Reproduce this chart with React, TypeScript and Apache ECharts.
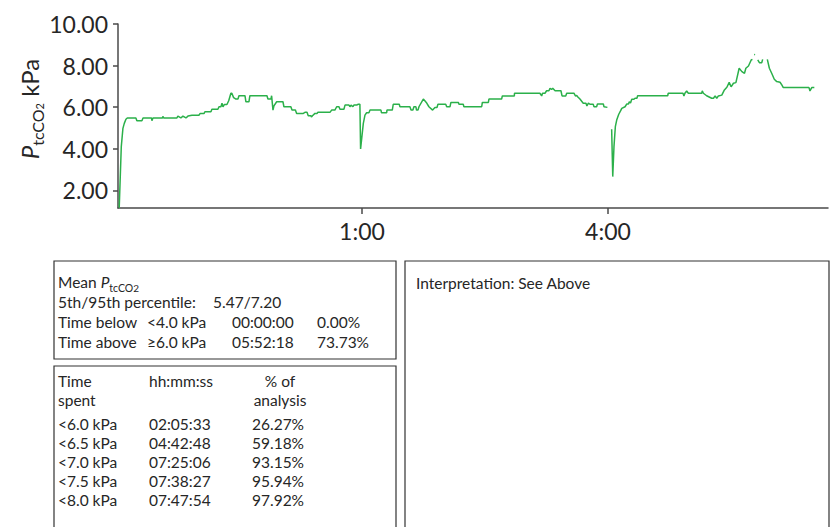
import React, { useEffect, useRef } from "react";
import * as echarts from "echarts";

// time in minutes after 22:00 (recording start ~22:01)
const timeMin = [
  2.4, 3.9, 5.1, 6.1, 7.3, 8.3, 14.6, 15.3, 19.0, 19.8, 26.0, 26.3, 27.1, 34.0, 34.3, 35.0, 44.6, 45.3, 47.5, 49.0,
  51.2, 52.7, 55.6, 60.7, 61.5, 64.4, 65.1, 69.5, 70.2, 74.6, 75.4, 76.8, 77.6, 78.3, 79.4, 81.2, 82.5, 83.0, 84.1, 84.8,
  86.1, 87.8, 89.3, 90.0, 94.4, 95.1, 97.3, 98.0, 110.5, 111.2, 113.4, 113.9, 114.9, 115.6, 117.6, 122.2, 122.9, 128.0, 128.8, 131.3,
  132.2, 137.1, 138.3, 139.8, 140.7, 142.7, 143.0, 143.8, 145.6, 147.1, 147.8, 156.6, 157.8, 160.2, 161.5, 163.2, 163.9, 166.8, 167.6, 170.5,
  171.2, 172.0, 173.4, 174.1, 176.1, 177.3, 178.5, 179.0, 181.0, 182.2, 183.4, 185.1, 185.9, 193.9, 194.3, 198.1, 198.3, 202.2, 202.9, 207.3,
  207.8, 215.1, 215.9, 217.3, 218.0, 219.5, 219.9, 221.0, 221.7, 224.9, 227.4, 229.0, 231.7, 233.4, 234.9, 235.6, 241.3, 242.0, 244.4, 245.1,
  250.5, 251.0, 254.1, 254.6, 267.6, 268.1, 272.5, 272.9, 282.2, 282.7, 291.5, 291.6, 310.2, 311.5, 312.1, 313.9, 315.1, 316.8, 317.6, 318.7,
  319.6, 321.3, 325.6, 326.4, 329.1, 329.8, 335.1, 336.2, 337.1, 338.0, 339.5, 341.9, 343.9, 344.6, 345.7, 346.8, 349.2, 349.8, 351.7, 352.3,
  356.6, 357.1, 359.6, 361.0, 362.7, 363.5, 364.4, 365.4, 366.4, 367.9, 369.3, 370.1, 372.5, 373.7, 375.0, 375.6, 376.5, 377.4, 379.0, 379.8,
  381.2, 381.7, 403.7, 404.1, 414.9, 415.6, 416.3, 417.6, 418.8, 428.6, 429.0, 429.8, 432.2, 435.9, 437.2, 438.4, 439.6, 440.8, 443.3, 445.2,
  447.0, 448.7, 450.1, 451.8, 453.6, 456.0, 458.0, 459.9, 460.9, 462.8, 464.8, 465.7, 466.4, 467.0, 467.6, 468.5, 469.6, 470.8, 472.5, 473.2,
  475.0, 476.6, 478.1, 479.8, 481.7, 483.5, 485.9, 487.2, 488.3, 507.1, 507.8, 509.1, 511.0,
];

// PtcCO2 in kPa (null = no data)
const ptcco2 = [
  1.16, 4.10, 4.98, 5.22, 5.42, 5.48, 5.48, 5.35, 5.35, 5.48, 5.48, 5.35, 5.48, 5.48, 5.56, 5.48, 5.48, 5.57, 5.48, 5.57,
  5.48, 5.57, 5.61, 5.61, 5.69, 5.69, 5.78, 5.78, 5.90, 5.90, 6.02, 6.02, 6.19, 6.02, 6.13, 6.13, 6.31, 6.31, 6.67, 6.67,
  6.46, 6.39, 6.39, 6.55, 6.55, 6.26, 6.26, 6.55, 6.55, 6.39, 6.39, 6.55, 5.86, 6.06, 6.26, 6.26, 6.02, 6.02, 5.86, 5.86,
  5.70, 5.70, 5.75, 5.75, 5.59, 5.59, 5.53, 5.59, 5.70, 5.70, 5.75, 5.75, 5.86, 5.86, 6.02, 6.02, 5.90, 5.90, 6.10, 6.10,
  6.02, 6.10, 6.02, 6.10, 6.10, 6.14, 6.14, 3.99, 5.22, 5.62, 5.73, 5.73, 5.86, 5.86, 5.73, 5.73, 5.86, 5.86, 6.14, 6.14,
  6.02, 6.02, 5.86, 5.86, 6.02, 6.02, 5.86, 5.86, 6.02, 6.39, 6.20, 6.02, 5.86, 5.98, 5.98, 6.14, 6.14, 6.02, 6.02, 6.23,
  6.23, 6.14, 6.14, 6.02, 6.02, 6.23, 6.23, 6.39, 6.39, 6.54, 6.54, 6.67, 6.67, 6.54, 6.67, 6.67, 6.79, 6.79, 6.91, 6.85,
  6.91, 6.79, 6.79, 6.54, 6.54, 6.67, 6.67, 6.54, 6.56, 6.49, 6.39, 6.19, 6.19, 6.06, 6.19, 6.14, 6.14, 6.02, 6.02, 6.15,
  6.15, 6.02, 5.99, null, 4.94, 2.66, 4.10, 5.06, 5.38, 5.66, 5.83, 5.94, 6.02, 6.15, 6.15, 6.26, 6.20, 6.38, 6.38, 6.43,
  6.43, 6.55, 6.55, 6.67, 6.67, 6.54, 6.67, 6.78, 6.67, 6.67, 6.78, 6.67, 6.55, 6.43, 6.43, 6.54, 6.43, 6.54, 6.58, 6.83,
  6.96, 7.19, 6.98, 7.15, 7.18, 7.87, 7.71, 7.63, 7.87, 7.98, 8.27, 8.30, null, 8.54, 8.52, null, 8.27, 8.14, 8.14, 8.30,
  null, 8.30, 7.87, 7.63, 7.34, 7.23, 7.20, 7.07, 6.94, 6.94, 6.78, 6.94, 6.94,
];

const yTicks = [2, 4, 6, 8, 10];
const xTicks = [180, 360]; // 1:00 and 4:00
const startClockHour = 22;

const percentileText = "5.47/7.20";
const belowRow = ["Time below", "<4.0 kPa", "00:00:00", "0.00%"];
const aboveRow = ["Time above", "\u22656.0 kPa", "05:52:18", "73.73%"];

const thresholds = ["<6.0 kPa", "<6.5 kPa", "<7.0 kPa", "<7.5 kPa", "<8.0 kPa"];
const durations = ["02:05:33", "04:42:48", "07:25:06", "07:38:27", "07:47:54"];
const percents = ["26.27%", "59.18%", "93.15%", "95.94%", "97.92%"];

const FONT = "Lato, 'Noto Sans', sans-serif";
const TXT = "#262626";
const FS = 15.5;

export default function App() {
  const ref = useRef<HTMLDivElement>(null);
  useEffect(() => {
    document.body.style.margin = "0";
    const chart = echarts.init(ref.current!, null, { renderer: "svg" });
    const data = timeMin.map((t, i) => [t, ptcco2[i] === null ? "-" : ptcco2[i]]);

    const txt = (x: number, y: number, text: string, extra: any = {}) => ({
      type: "text",
      x,
      y,
      silent: true,
      style: {
        text,
        fontFamily: FONT,
        fontSize: FS,
        fill: TXT,
        textVerticalAlign: "middle",
        ...extra,
      },
    });

    const graphics: any[] = [
      // y-axis name
      {
        type: "text",
        x: 29,
        y: 109,
        rotation: Math.PI / 2,
        silent: true,
        style: {
          text: "{p|P}{s|tcCO}{s2|2}{n| kPa}",
          align: "center",
          verticalAlign: "middle",
          fontFamily: FONT,
          fill: TXT,
          rich: {
            p: { fontSize: 24, fontStyle: "italic", fontFamily: FONT, fill: TXT, lineHeight: 32, verticalAlign: "middle" },
            s: { fontSize: 16, fontFamily: FONT, fill: TXT, lineHeight: 19, verticalAlign: "bottom" },
            s2: { fontSize: 11, fontFamily: FONT, fill: TXT, lineHeight: 10, verticalAlign: "bottom" },
            n: { fontSize: 24, fontFamily: FONT, fill: TXT, lineHeight: 32, verticalAlign: "middle" },
          },
        },
      },
      // boxes
      { type: "rect", silent: true, shape: { x: 54, y: 261, width: 342, height: 98 }, style: { fill: "none", stroke: "#333", lineWidth: 1.2 } },
      { type: "rect", silent: true, shape: { x: 54, y: 366, width: 342, height: 170 }, style: { fill: "none", stroke: "#333", lineWidth: 1.2 } },
      { type: "rect", silent: true, shape: { x: 405, y: 261, width: 424, height: 275 }, style: { fill: "none", stroke: "#333", lineWidth: 1.2 } },
      {
        type: "text",
        x: 58,
        y: 282,
        silent: true,
        style: {
          text: "{m|Mean }{p|P}{s|tcCO}{s2|2}",
          verticalAlign: "middle",
          fontFamily: FONT,
          fill: TXT,
          rich: {
            m: { fontSize: FS, fontFamily: FONT, fill: TXT, lineHeight: 22, verticalAlign: "middle" },
            p: { fontSize: FS, fontStyle: "italic", fontFamily: FONT, fill: TXT, lineHeight: 22, verticalAlign: "middle" },
            s: { fontSize: 10.5, fontFamily: FONT, fill: TXT, lineHeight: 14, verticalAlign: "bottom" },
            s2: { fontSize: 10, fontFamily: FONT, fill: TXT, lineHeight: 7, verticalAlign: "bottom" },
          },
        },
      },
      txt(58, 302, "5th/95th percentile:"),
      txt(213, 302, percentileText),
      txt(58, 322, belowRow[0]),
      txt(147, 322, belowRow[1]),
      txt(232, 322, belowRow[2]),
      txt(317, 322, belowRow[3]),
      txt(58, 342, aboveRow[0]),
      txt(147, 342, aboveRow[1]),
      txt(232, 342, aboveRow[2]),
      txt(317, 342, aboveRow[3]),
      txt(58, 381, "Time"),
      txt(58, 400, "spent"),
      txt(149, 381, "hh:mm:ss"),
      txt(280, 381, "% of", { align: "center" }),
      txt(280, 400, "analysis", { align: "center" }),
      txt(416, 283, "Interpretation: See Above"),
    ];
    thresholds.forEach((th, i) => {
      const y = 424 + i * 19;
      graphics.push(txt(58, y, th));
      graphics.push(txt(149, y, durations[i]));
      graphics.push(txt(252, y, percents[i]));
    });

    chart.setOption({
      animation: false,
      textStyle: { fontFamily: FONT },
      grid: { left: 118, right: 4, top: 24, bottom: 319, containLabel: false },
      xAxis: {
        type: "value",
        min: 1.5,
        max: 521,
        splitLine: { show: false },
        axisLine: { lineStyle: { color: "#4a4a4a", width: 1.5 } },
        axisTick: { show: true, customValues: xTicks, length: 6, lineStyle: { color: "#4a4a4a", width: 1.5 } },
        axisLabel: {
          customValues: xTicks,
          formatter: (v: number) => `${Math.round((startClockHour + v / 60) % 24)}:00`,
          fontSize: 23,
          color: TXT,
          margin: 11,
          fontFamily: FONT,
        },
      },
      yAxis: {
        type: "value",
        min: 1.15,
        max: 10,
        splitLine: { show: false },
        axisLine: { show: true, lineStyle: { color: "#4a4a4a", width: 1.5 } },
        axisTick: { show: true, customValues: yTicks, length: 5, lineStyle: { color: "#4a4a4a", width: 1.5 } },
        axisLabel: {
          customValues: yTicks,
          formatter: (v: number) => v.toFixed(2),
          fontSize: 23,
          color: TXT,
          margin: 10,
          fontFamily: FONT,
        },
      },
      series: [
        {
          type: "line",
          data,
          showSymbol: false,
          connectNulls: false,
          lineStyle: { color: "#2bb04a", width: 1.5 },
          itemStyle: { color: "#2bb04a" },
        },
      ],
      graphic: graphics,
    });
    return () => chart.dispose();
  }, []);
  return <div ref={ref} style={{ position: "absolute", left: 0, top: 0, width: 832, height: 527 }} />;
}
